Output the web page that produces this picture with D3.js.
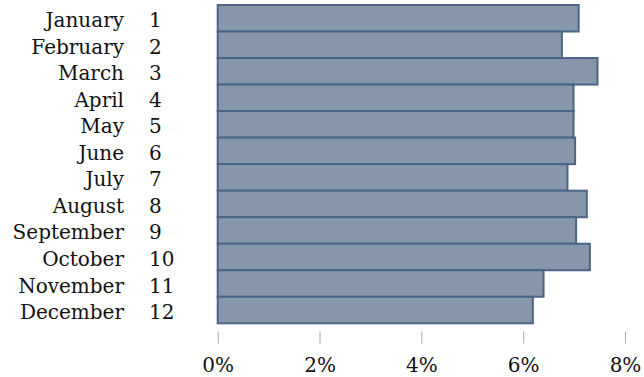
<!DOCTYPE html>
<html>
<head>
<meta charset="utf-8">
<script src="https://cdn.jsdelivr.net/npm/d3@7"></script>
<style>
  body { margin: 0; background: #fff; }
  svg text { font-family: "DejaVu Serif", serif; font-size: 20px; fill: #111; }
</style>
</head>
<body>
<svg id="chart"></svg>
<script>
var width = 644, height = 377;

var months = ["January", "February", "March", "April", "May", "June",
              "July", "August", "September", "October", "November", "December"];
var monthNums = ["1", "2", "3", "4", "5", "6", "7", "8", "9", "10", "11", "12"];
var shares = [7.09, 6.76, 7.46, 6.99, 6.99, 7.02, 6.87, 7.25, 7.04, 7.31, 6.40, 6.19];
var xTicks = [0, 2, 4, 6, 8];

var svg = d3.select("#chart")
  .attr("width", width)
  .attr("height", height);

// scales
var x = d3.scaleLinear().domain([0, 8]).range([217.7, 625]);
var y = d3.scaleBand().domain(months).range([5, 323.3]).padding(0);

// bars
svg.append("g")
  .selectAll("rect")
  .data(months)
  .enter().append("rect")
  .attr("x", x(0))
  .attr("y", function(d) { return y(d); })
  .attr("width", function(d, i) { return x(shares[i]) - x(0); })
  .attr("height", y.bandwidth())
  .attr("fill", "#8797aa")
  .attr("stroke", "#4a6585")
  .attr("stroke-width", 2);

// month labels
svg.append("g")
  .selectAll("text")
  .data(months)
  .enter().append("text")
  .attr("x", 124)
  .attr("y", function(d) { return y(d) + y.bandwidth() / 2; })
  .attr("dy", "0.45em")
  .style("text-anchor", "end")
  .text(function(d) { return d; });

// month numbers
svg.append("g")
  .selectAll("text")
  .data(months)
  .enter().append("text")
  .attr("x", 149)
  .attr("y", function(d) { return y(d) + y.bandwidth() / 2; })
  .attr("dy", "0.45em")
  .style("text-anchor", "start")
  .text(function(d, i) { return monthNums[i]; });

// x axis
var xaxis = svg.append("g")
  .attr("class", "x axis")
  .attr("transform", "translate(0,331.5)")
  .call(d3.axisBottom(x).tickValues(xTicks).tickSize(12).tickPadding(14)
    .tickFormat(function(d) { return d + "%"; }));

xaxis.select(".domain").remove();
xaxis.selectAll(".tick line").attr("stroke", "#aaa").attr("stroke-width", 1);
xaxis.selectAll(".tick text")
  .style("font-family", "DejaVu Serif, serif")
  .style("font-size", "20px")
  .attr("fill", "#111");
</script>
</body>
</html>
